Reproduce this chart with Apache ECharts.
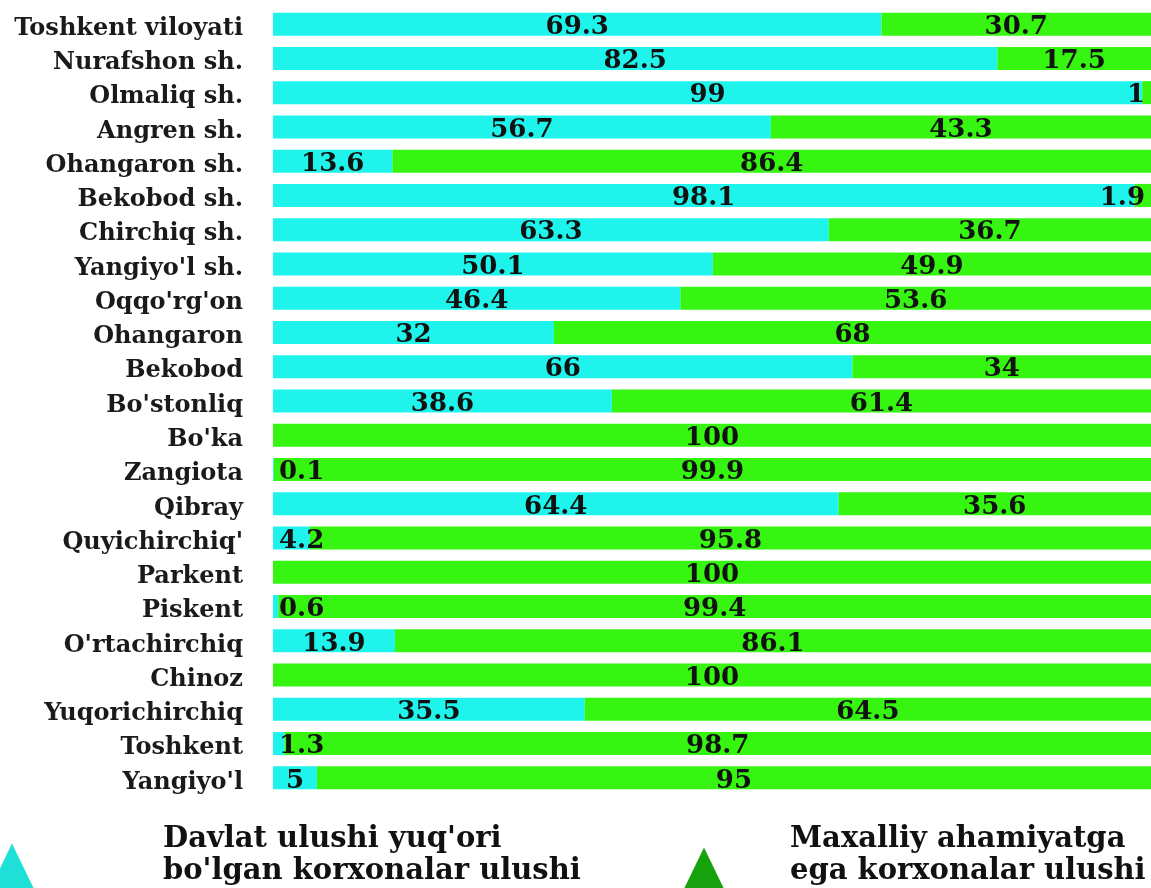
<!DOCTYPE html>
<html><head><meta charset="utf-8">
<script src="https://cdn.jsdelivr.net/npm/echarts@6/dist/echarts.min.js"></script>
<style>html,body{margin:0;padding:0;background:#fff}#c{width:1151px;height:888px}</style>
</head><body><div id="c"></div>
<script>
const categories = ["Toshkent viloyati","Nurafshon sh.","Olmaliq sh.","Angren sh.","Ohangaron sh.","Bekobod sh.","Chirchiq sh.","Yangiyo'l sh.","Oqqo'rg'on","Ohangaron","Bekobod","Bo'stonliq","Bo'ka","Zangiota","Qibray","Quyichirchiq'","Parkent","Piskent","O'rtachirchiq","Chinoz","Yuqorichirchiq","Toshkent","Yangiyo'l"];
const stateShare = [69.3,82.5,99,56.7,13.6,98.1,63.3,50.1,46.4,32,66,38.6,0,0.1,64.4,4.2,0,0.6,13.9,0,35.5,1.3,5];
const localShare = [30.7,17.5,1,43.3,86.4,1.9,36.7,49.9,53.6,68,34,61.4,100,99.9,35.6,95.8,100,99.4,86.1,100,64.5,98.7,95];
const seriesNames = ["Davlat ulushi yuq'ori\nbo'lgan korxonalar ulushi","Maxalliy ahamiyatga\nega korxonalar ulushi"];

const FONT = 'DejaVu Serif';
const labelBase = {show:true, fontFamily:FONT, fontWeight:'bold', fontSize:26, color:'#111', offset:[0,3]};

function items(vals, smallPos){
  return vals.map(v => {
    if (v === 0) return {value:v, label:{show:false}};
    if (v < 4.5) return {value:v, label:{position:smallPos, distance:6}};
    return {value:v};
  });
}
function legendText(name){
  return name.split('\n').map(l => '{a|' + l + '}').join('\n') + '\n{s| }';
}
function legendRich(spacer){
  return {a:{fontFamily:FONT, fontWeight:'bold', fontSize:29, lineHeight:32, color:'#111'},
          s:{fontSize:4, lineHeight:spacer}};
}

const chart = echarts.init(document.getElementById('c'));
chart.setOption({
  backgroundColor:'#fff',
  animation:false,
  grid:{left:273, right:0, top:7, height:788},
  xAxis:{type:'value', min:0, max:100, show:false},
  yAxis:{type:'category', inverse:true, data:categories,
    axisLine:{show:false}, axisTick:{show:false},
    axisLabel:{margin:30, formatter: v => '{s| }\n{a|' + v + '}',
      rich:{a:{fontFamily:FONT, fontWeight:'bold', fontSize:24, lineHeight:26, color:'#1a1a1a'},
            s:{fontSize:4, lineHeight:9}}}},
  legend:[
    {left:-22, top:820, itemWidth:58, itemHeight:60, icon:'triangle', selectedMode:false,
     formatter: legendText,
     data:[{name:seriesNames[0], itemStyle:{color:'#1fe0d6'},
       textStyle:{padding:[0,0,0,117], rich:legendRich(36)}}]},
    {left:670, top:820, itemWidth:58, itemHeight:60, icon:'triangle', selectedMode:false,
     formatter: legendText,
     data:[{name:seriesNames[1], itemStyle:{color:'#17a10c'},
       textStyle:{padding:[0,0,0,52], rich:legendRich(44)}}]}
  ],
  series:[
    {name:seriesNames[0], type:'bar', stack:'s', barWidth:23, itemStyle:{color:'#1ef4ec'},
     label:Object.assign({}, labelBase, {position:'inside'}), data:items(stateShare,'insideLeft')},
    {name:seriesNames[1], type:'bar', stack:'s', barWidth:23, itemStyle:{color:'#36f511'},
     label:Object.assign({}, labelBase, {position:'inside'}), data:items(localShare,'insideRight')}
  ]
});
</script></body></html>
